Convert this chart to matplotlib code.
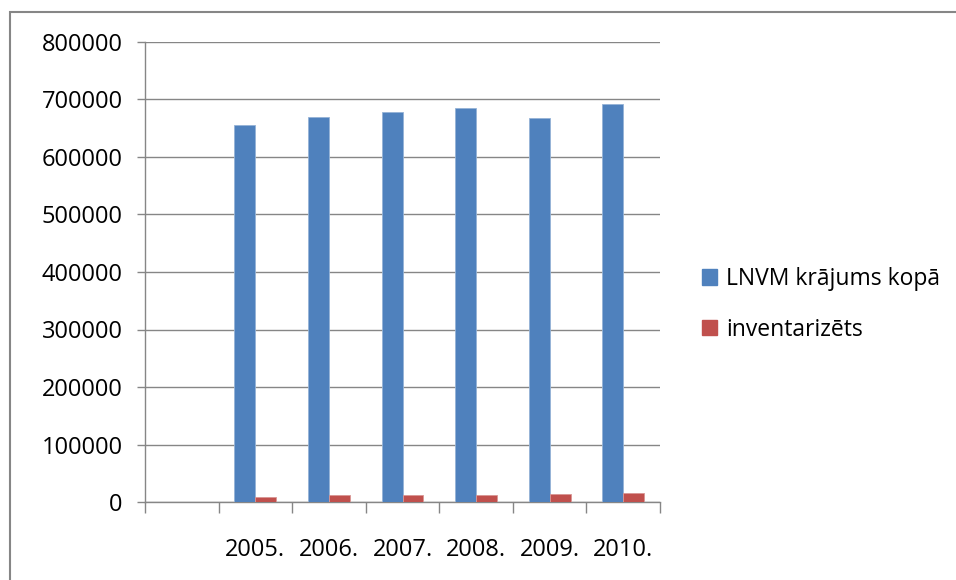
import numpy as np
import matplotlib.pyplot as plt
from matplotlib.patches import Rectangle, Patch

# categories (first slot is empty in the original chart)
categories = ["", "2005.", "2006.", "2007.", "2008.", "2009.", "2010."]
total_stock = [np.nan, 656000, 669000, 678000, 685000, 667000, 692000]
inventoried = [np.nan, 9300, 11600, 11600, 11600, 13900, 16200]

blue = "#4f81bd"
red = "#c0504d"
grid_col = "#868686"

plt.rcParams["font.family"] = ["Open Sans", "DejaVu Sans"]

fig = plt.figure(figsize=(9.56, 5.8), dpi=100)
W, H = 956, 580
ax = fig.add_axes([145 / W, 1 - 502 / H, (660 - 145) / W, (502 - 42) / H])

x = np.arange(len(categories))
bw = 0.285
ax.bar(x - bw / 2, total_stock, bw, color=blue, edgecolor="#95b3d7", linewidth=0.6,
       label="LNVM krājums kopā", zorder=3)
ax.bar(x + bw / 2, inventoried, bw, color=red, edgecolor="#d99694", linewidth=0.6,
       label="inventarizēts", zorder=3)

ax.set_xlim(-0.5, len(categories) - 0.5)
ax.set_ylim(0, 800000)
ax.set_yticks(np.arange(0, 800001, 100000))
ax.set_yticklabels([str(v) for v in range(0, 800001, 100000)])
ax.yaxis.grid(True, color=grid_col, linewidth=1, zorder=0)

# category labels centred, ticks at boundaries
ax.set_xticks(x)
ax.set_xticklabels(categories)
ax.set_xticks(np.arange(-0.5, len(categories)), minor=True)
ax.tick_params(axis="x", which="major", length=0, pad=26, labelsize=17)
ax.tick_params(axis="x", which="minor", length=8, color=grid_col, width=1)
ax.tick_params(axis="y", length=6, color=grid_col, width=1, labelsize=17, pad=10)

for s in ["top", "right"]:
    ax.spines[s].set_visible(False)
for s in ["left", "bottom"]:
    ax.spines[s].set_color(grid_col)
    ax.spines[s].set_linewidth(1)

handles = [Patch(color=blue), Patch(color=red)]
fig.legend(handles, ["LNVM krājums kopā", "inventarizēts"],
           loc="upper left", bbox_to_anchor=(693 / W, 1 - 258 / H),
           frameon=False, fontsize=16.5, handlelength=0.65, handleheight=0.65,
           handletextpad=0.4, labelspacing=1.15, borderaxespad=0)

# outer chart frame
fig.patches.append(Rectangle((10 / W, -0.05), 1.1, 1 - 12 / H + 0.05,
                             transform=fig.transFigure, fill=False,
                             edgecolor=grid_col, linewidth=1.5))

fig.savefig("out.png", dpi=100)
